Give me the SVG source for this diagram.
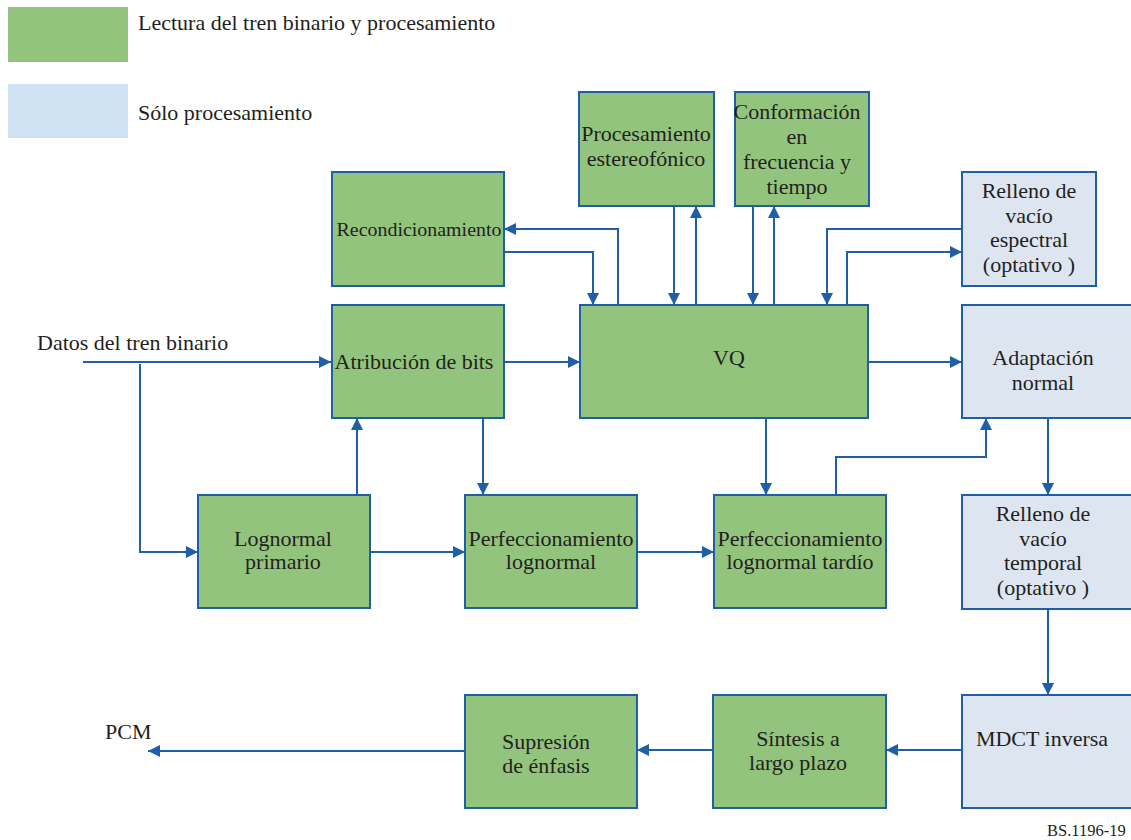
<svg xmlns="http://www.w3.org/2000/svg" width="1131" height="840" viewBox="0 0 1131 840">
  <style>
    .g { fill: #93c47d; stroke: #1f5fa8; stroke-width: 2; }
    .b { fill: #dde5f1; stroke: #1f5fa8; stroke-width: 2; }
    .t { font-family: 'Liberation Serif', 'Times New Roman', Times, 'DejaVu Serif', serif; font-size: 22px; fill: #231f20; text-anchor: middle; }
    .l { font-family: 'Liberation Serif', 'Times New Roman', Times, 'DejaVu Serif', serif; font-size: 22px; fill: #231f20; }
    .c { fill: none; stroke: #1f5fa8; stroke-width: 2; }
  </style>
  <defs>
    <marker id="arr" markerUnits="userSpaceOnUse" markerWidth="12" markerHeight="12" refX="12" refY="6" orient="auto">
      <path d="M0,0 L12,6 L0,12 z" fill="#1f5fa8"/>
    </marker>
  </defs>
  <rect x="0" y="0" width="1131" height="840" fill="#ffffff"/>

  <!-- legend -->
  <g id="legend">
    <rect x="8" y="7" width="120" height="55" fill="#93c47d"/>
    <text class="l" x="138" y="30">Lectura del tren binario y procesamiento</text>
    <rect x="8" y="84" width="120" height="54" fill="#cfe2f3"/>
    <text class="l" x="138" y="120">Sólo procesamiento</text>
  </g>

  <!-- connectors -->
  <g id="connectors">
    <!-- input data -->
    <path class="c" d="M83,362 H331" marker-end="url(#arr)"/>
    <path class="c" d="M140,364 V552 H198" marker-end="url(#arr)"/>
    <!-- bit allocation / lognormal chain -->
    <path class="c" d="M357,495 V418" marker-end="url(#arr)"/>
    <path class="c" d="M483,418 V495" marker-end="url(#arr)"/>
    <path class="c" d="M504,362 H580" marker-end="url(#arr)"/>
    <path class="c" d="M370,552 H465" marker-end="url(#arr)"/>
    <path class="c" d="M637,552 H714" marker-end="url(#arr)"/>
    <path class="c" d="M766,418 V495" marker-end="url(#arr)"/>
    <path class="c" d="M836,495 V457 H986 V418" marker-end="url(#arr)"/>
    <!-- VQ to norm adaptation and the output chain -->
    <path class="c" d="M868,362 H962" marker-end="url(#arr)"/>
    <path class="c" d="M1048,418 V495" marker-end="url(#arr)"/>
    <path class="c" d="M1048,609 V695" marker-end="url(#arr)"/>
    <path class="c" d="M962,750 H886" marker-end="url(#arr)"/>
    <path class="c" d="M713,750 H637" marker-end="url(#arr)"/>
    <path class="c" d="M465,751 H148" marker-end="url(#arr)"/>
    <!-- reconditioning loop -->
    <path class="c" d="M618,305 V229 H504" marker-end="url(#arr)"/>
    <path class="c" d="M504,252 H593 V305" marker-end="url(#arr)"/>
    <!-- stereo processing -->
    <path class="c" d="M674,206 V305" marker-end="url(#arr)"/>
    <path class="c" d="M696,305 V206" marker-end="url(#arr)"/>
    <!-- frequency/time shaping -->
    <path class="c" d="M753,206 V305" marker-end="url(#arr)"/>
    <path class="c" d="M774,305 V206" marker-end="url(#arr)"/>
    <!-- spectral gap filling -->
    <path class="c" d="M962,229 H827 V305" marker-end="url(#arr)"/>
    <path class="c" d="M847,305 V252 H962" marker-end="url(#arr)"/>
  </g>

  <!-- nodes -->
  <g id="recondicionamiento">
    <rect class="g" x="332" y="172" width="172" height="114"/>
    <text class="t" x="419" y="236" style="font-size:18px" textLength="165" lengthAdjust="spacingAndGlyphs">Recondicionamiento</text>
  </g>
  <g id="atribucion">
    <rect class="g" x="332" y="305" width="172" height="113"/>
    <text class="t" x="414" y="369">Atribución de bits</text>
  </g>
  <g id="estereo">
    <rect class="g" x="579" y="92" width="135" height="114"/>
    <text class="t" x="646" y="141">Procesamiento</text>
    <text class="t" x="646" y="166">estereofónico</text>
  </g>
  <g id="conformacion">
    <rect class="g" x="735" y="92" width="134" height="114"/>
    <text class="t" x="797" y="119">Conformación</text>
    <text class="t" x="797" y="144">en</text>
    <text class="t" x="797" y="169">frecuencia y</text>
    <text class="t" x="797" y="194">tiempo</text>
  </g>
  <g id="vq">
    <rect class="g" x="580" y="305" width="288" height="113"/>
    <text class="t" x="729" y="365">VQ</text>
  </g>
  <g id="relleno-espectral">
    <rect class="b" x="962" y="172" width="134" height="114"/>
    <text class="t" x="1029" y="198">Relleno de</text>
    <text class="t" x="1029" y="223">vacío</text>
    <text class="t" x="1029" y="247">espectral</text>
    <text class="t" x="1029" y="272">(optativo )</text>
  </g>
  <g id="adaptacion">
    <rect class="b" x="962" y="305" width="172" height="113"/>
    <text class="t" x="1043" y="365">Adaptación</text>
    <text class="t" x="1043" y="390">normal</text>
  </g>
  <g id="lognormal-primario">
    <rect class="g" x="198" y="495" width="172" height="113"/>
    <text class="t" x="283" y="546">Lognormal</text>
    <text class="t" x="283" y="569">primario</text>
  </g>
  <g id="perfeccionamiento">
    <rect class="g" x="465" y="495" width="172" height="113"/>
    <text class="t" x="551" y="546">Perfeccionamiento</text>
    <text class="t" x="551" y="569">lognormal</text>
  </g>
  <g id="perfeccionamiento-tardio">
    <rect class="g" x="714" y="495" width="172" height="113"/>
    <text class="t" x="800" y="546">Perfeccionamiento</text>
    <text class="t" x="800" y="569">lognormal tardío</text>
  </g>
  <g id="relleno-temporal">
    <rect class="b" x="962" y="495" width="172" height="114"/>
    <text class="t" x="1043" y="521">Relleno de</text>
    <text class="t" x="1043" y="546">vacío</text>
    <text class="t" x="1043" y="570">temporal</text>
    <text class="t" x="1043" y="595">(optativo )</text>
  </g>
  <g id="mdct">
    <rect class="b" x="962" y="695" width="172" height="113"/>
    <text class="t" x="1042" y="746">MDCT inversa</text>
  </g>
  <g id="sintesis">
    <rect class="g" x="713" y="695" width="173" height="113"/>
    <text class="t" x="798" y="746">Síntesis a</text>
    <text class="t" x="798" y="770">largo plazo</text>
  </g>
  <g id="supresion">
    <rect class="g" x="465" y="695" width="172" height="113"/>
    <text class="t" x="546" y="749">Supresión</text>
    <text class="t" x="546" y="773">de énfasis</text>
  </g>

  <!-- free labels -->
  <g id="labels">
    <text class="l" x="37" y="350">Datos del tren binario</text>
    <text class="l" x="105" y="739">PCM</text>
    <text class="l" x="1047" y="836" style="font-size:16.5px">BS.1196-19</text>
  </g>
</svg>
